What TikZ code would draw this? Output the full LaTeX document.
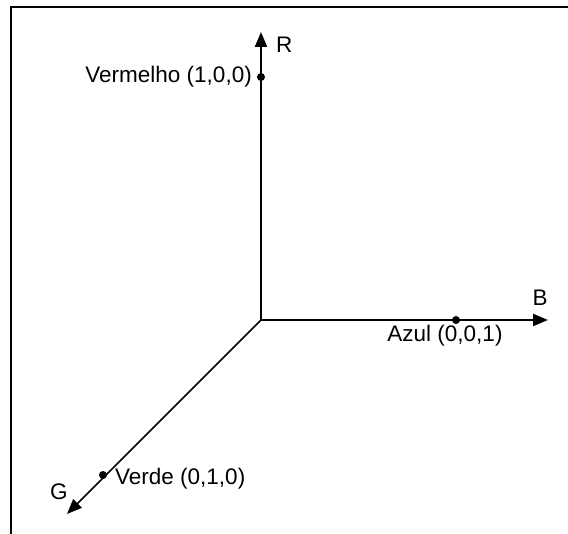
\documentclass[tikz,border=0pt]{standalone}
\usepackage{fontspec}
\setmainfont{Liberation Sans}
\usetikzlibrary{arrows.meta}
\begin{document}
\begin{tikzpicture}[x=1pt,y=1pt,
  axis/.style={line width=2.2pt,-{Triangle[length=15pt,width=12pt]}},
  dotpt/.style={circle,fill=black,inner sep=0pt,minimum size=8pt},
  lbl/.style={font=\fontsize{22.5}{26}\selectfont,inner sep=0pt}]
\useasboundingbox (0,0) rectangle (568,534);
\fill[white] (0,0) rectangle (568,534);
\draw[line width=2.6pt] (11,0) -- (11,527) -- (568,527);
\coordinate (O) at (261,214);
\coordinate (Rt) at (261,502);
\coordinate (Bt) at (548,214);
\coordinate (Gt) at (67,20);
\draw[axis] (O) -- (Rt);
\draw[axis] (O) -- (Bt);
\draw[axis,line width=1.7pt] (O) -- (Gt);
\node[dotpt] (vermelho) at (261,457) {};
\node[dotpt] (azul) at (456,214) {};
\node[dotpt] (verde) at (103,59) {};
\node[lbl,anchor=west] (R) at (276,489) {R};
\node[lbl] (B) at (540,236) {B};
\node[lbl] (G) at (59,42) {G};
\node[lbl,anchor=east] (tv) at (252,457) {Vermelho (1,0,0)};
\node[lbl] (ta) at (445,198) {Azul (0,0,1)};
\node[lbl,anchor=west] (tg) at (115,55) {Verde (0,1,0)};
\end{tikzpicture}
\end{document}
